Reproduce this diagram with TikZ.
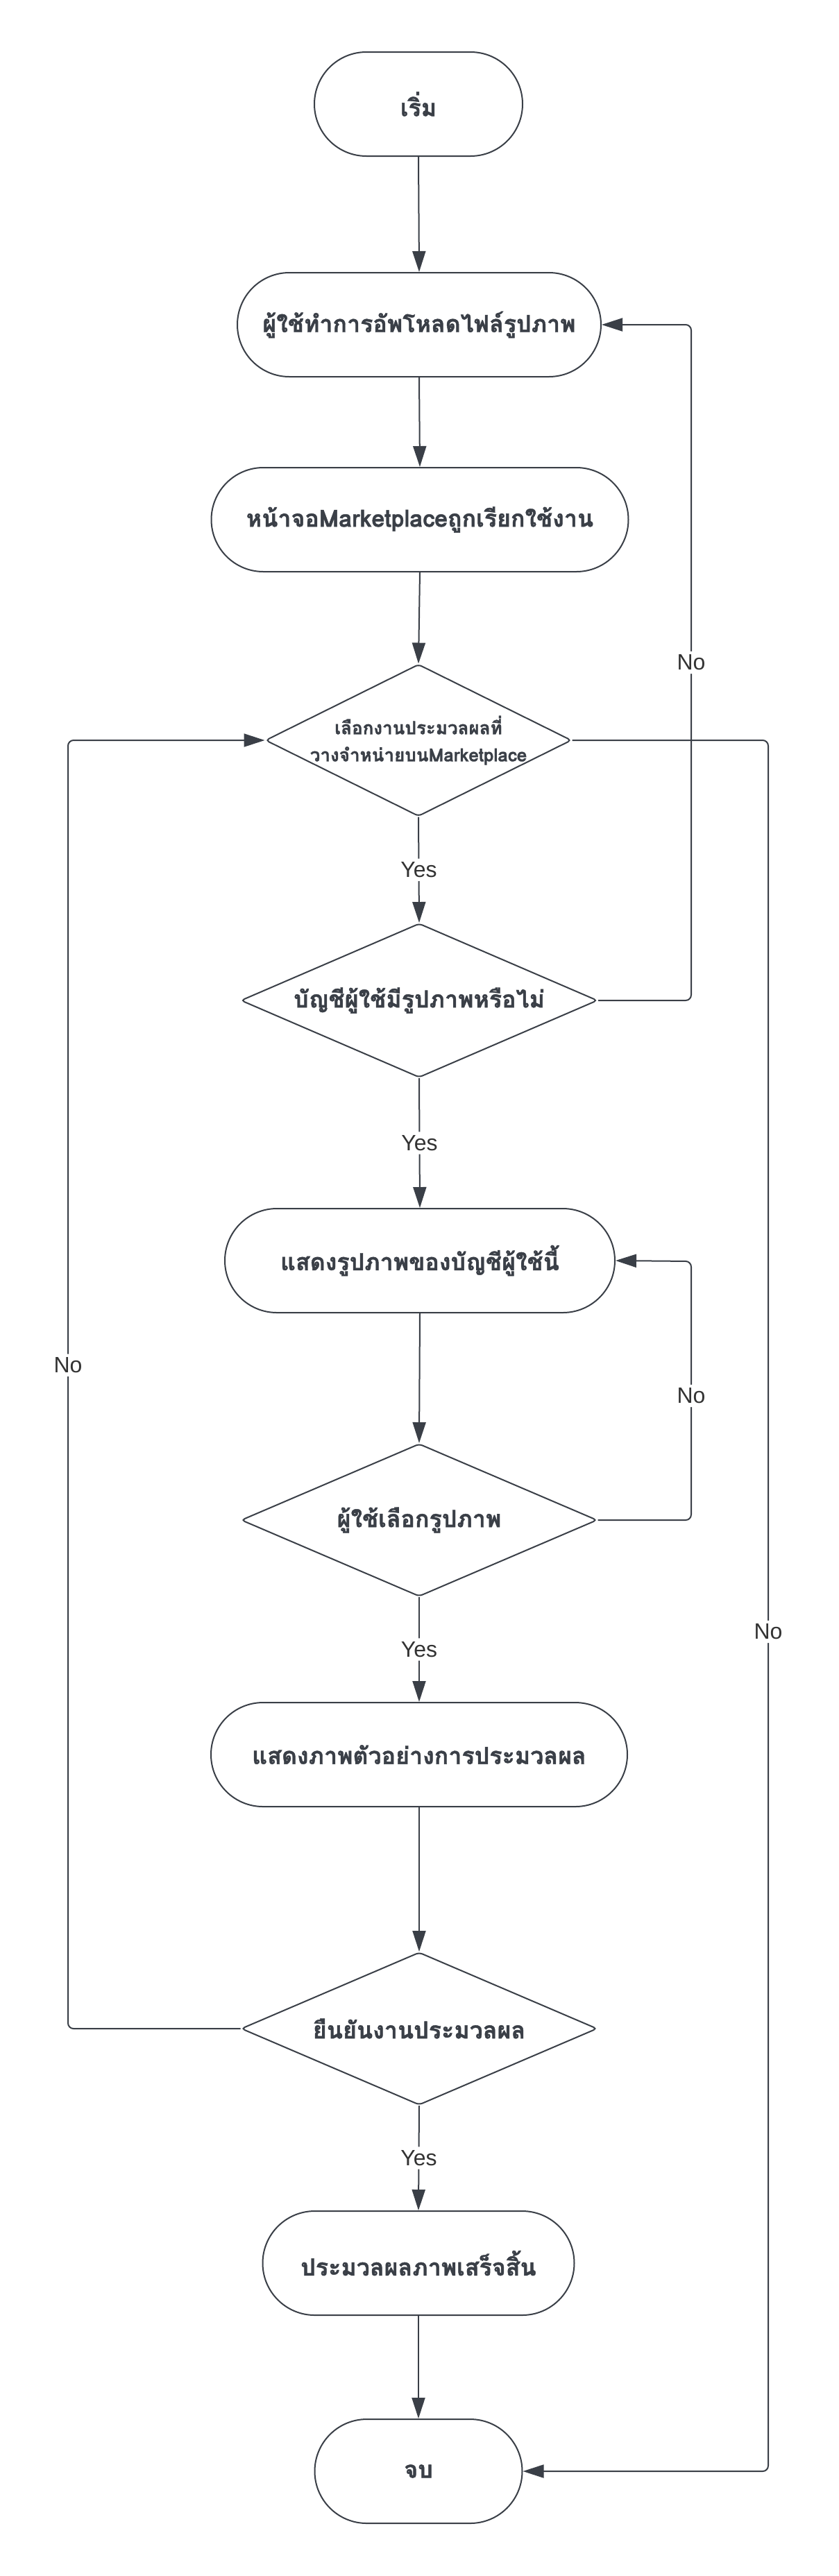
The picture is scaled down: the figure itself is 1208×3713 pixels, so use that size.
\documentclass[tikz,border=0pt]{standalone}
\usepackage{fontspec}
\setmainfont{Liberation Sans}
\newfontfamily\thaifont[Script=Thai, BoldFeatures={FakeBold=1.2}]{Loma}
\usetikzlibrary{shapes.geometric,arrows.meta}
\definecolor{lc}{RGB}{58,63,71}
\definecolor{tc}{RGB}{51,51,51}
\tikzset{
  every picture/.style={line width=2pt},
  term/.style={draw=lc, line width=2pt, rectangle, rounded corners=75pt, minimum height=150pt, inner sep=0pt,
    font=\thaifont\bfseries\fontsize{34}{40}\selectfont, text=lc},
  decide/.style={draw=lc, line width=2pt, diamond, rounded corners=5pt, inner sep=0pt},
  dtext/.style={font=\thaifont\bfseries\fontsize{34}{40}\selectfont, text=lc, align=center},
  conn/.style={draw=lc, line width=2pt, rounded corners=8pt, -{Triangle[length=30pt,width=19pt]}},
  lbl/.style={fill=white, text=tc, font=\fontsize{32}{38}\selectfont, inner sep=5pt},
}
\begin{document}
\begin{tikzpicture}[x=1pt,y=-1pt]
\useasboundingbox[fill=white] (0,0) rectangle (1208,3713);
% nodes
\node[term, minimum width=300pt] (start) at (603,150) {เริ่ม};
\node[term, minimum width=524pt] (upload) at (604,468) {ผู้ใช้ทำการอัพโหลดไฟล์รูปภาพ};
\node[term, minimum width=601pt] (market) at (605,749) {หน้าจอMarketplaceถูกเรียกใช้งาน};
\node[decide, minimum width=441pt, minimum height=219pt] (d1) at (603,1067) {};
\node[dtext, font=\thaifont\bfseries\fontsize{26}{39}\selectfont] (d1t) at (d1.center) {เลือกงานประมวลผลที่\\วางจำหน่ายบนMarketplace};
\node[decide, minimum width=514pt, minimum height=222pt] (d2) at (604,1442) {};
\node[dtext] (d2t) at (d2.center) {บัญชีผู้ใช้มีรูปภาพหรือไม่};
\node[term, minimum width=562pt] (show) at (605,1817) {แสดงรูปภาพของบัญชีผู้ใช้นี้};
\node[decide, minimum width=513pt, minimum height=220pt] (d3) at (604,2191) {};
\node[dtext] (d3t) at (d3.center) {ผู้ใช้เลือกรูปภาพ};
\node[term, minimum width=600pt] (preview) at (604,2529) {แสดงภาพตัวอย่างการประมวลผล};
\node[decide, minimum width=513pt, minimum height=220pt] (d4) at (604,2924) {};
\node[dtext] (d4t) at (d4.center) {ยืนยันงานประมวลผล};
\node[term, minimum width=449pt] (done) at (603,3262) {ประมวลผลภาพเสร็จสิ้น};
\node[term, minimum width=299pt] (end) at (603,3562) {จบ};
% connector coordinates
\coordinate (r1a) at (996,1442);
\coordinate (r1b) at (996,468);
\coordinate (r2a) at (1107,1067);
\coordinate (r2b) at (1107,3562);
\coordinate (r3a) at (996,2191);
\coordinate (r3b) at (996,1818);
\coordinate (l1a) at (98,2924);
\coordinate (l1b) at (98,1067);
% connectors
\draw[conn] (start.south) -- (upload.north);
\draw[conn] (upload.south) -- (market.north);
\draw[conn] (market.south) -- (d1.north);
\draw[conn] (d1.south) -- node[lbl] {Yes} (d2.north);
\draw[conn] (d2.east) -- (r1a) -- node[lbl, pos=0.5] {No} (r1b) -- (upload.east);
\draw[conn] (d1.east) -- (r2a) -- node[lbl, pos=0.515] {No} (r2b) -- (end.east);
\draw[conn] (d2.south) -- node[lbl] {Yes} (show.north);
\draw[conn] (show.south) -- (d3.north);
\draw[conn] (d3.east) -- (r3a) -- node[lbl, pos=0.48] {No} (r3b) -- (show.east);
\draw[conn] (d3.south) -- node[lbl] {Yes} (preview.north);
\draw[conn] (preview.south) -- (d4.north);
\draw[conn] (d4.west) -- (l1a) -- node[lbl, pos=0.515] {No} (l1b) -- (d1.west);
\draw[conn] (d4.south) -- node[lbl] {Yes} (done.north);
\draw[conn] (done.south) -- (end.north);
\end{tikzpicture}
\end{document}
